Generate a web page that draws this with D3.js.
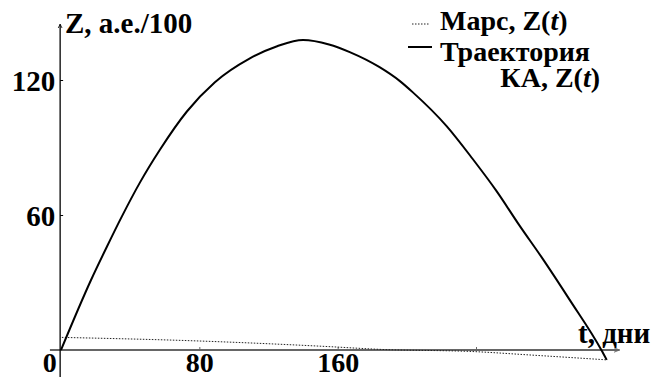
<!DOCTYPE html>
<html>
<head>
<meta charset="utf-8">
<script src="https://cdn.jsdelivr.net/npm/d3@7"></script>
<style>
  html, body { margin: 0; padding: 0; background: #fff; }
  svg { display: block; }
  svg text { font-family: "Liberation Serif", "Times New Roman", Times, "DejaVu Serif", serif !important; font-weight: bold; fill: #000; }
</style>
</head>
<body>
<svg id="chart" width="667" height="377"></svg>
<script>
// Spacecraft trajectory Z(t) versus time, in days
const kaDays = [0, 17.3, 26.6, 35.3, 45.7, 57.2, 72.8, 89, 109, 125, 140, 155, 167, 184, 196, 203.5, 223, 238, 252, 265, 278.6, 294, 312.5, 315.6];
const kaZ    = [0, 31, 46, 59.5, 74.5, 89, 106, 119, 129.5, 135, 137.8, 135.8, 132.4, 125.8, 119.5, 114.5, 99.5, 85, 70.5, 55.5, 40.5, 22.5, 0, -4.4];

// Mars Z(t)
const marsDays = [0.5, 80, 155, 184, 240, 271, 316];
const marsZ    = [5.6, 4.0, 1.5, 0.3, -0.75, -2.2, -4.4];

// Axis ticks
const xTicks = [80, 160, 240];
const xTickLabels = ["80", "160", ""];
const yTicks = [60, 120];

const FONT = "Liberation Serif, Times New Roman, serif";
const svg = d3.select("#chart");

const x = d3.scaleLinear().domain([0, 240]).range([61, 476]);
const y = d3.scaleLinear().domain([0, 120]).range([350, 80]);

// arrowheads
const defs = svg.append("defs");
defs.append("marker").attr("id", "arrY")
  .attr("viewBox", "0 0 10 10").attr("refX", 10).attr("refY", 5)
  .attr("markerWidth", 4).attr("markerHeight", 6).attr("orient", "auto")
  .attr("markerUnits", "userSpaceOnUse")
  .append("path").attr("d", "M0,0 L10,5 L0,10").attr("fill", "none").attr("stroke", "#000").attr("stroke-width", 2);
defs.append("marker").attr("id", "arrX")
  .attr("viewBox", "0 0 10 10").attr("refX", 10).attr("refY", 5)
  .attr("markerWidth", 6).attr("markerHeight", 6).attr("orient", "auto")
  .attr("markerUnits", "userSpaceOnUse")
  .append("path").attr("d", "M0,1 L10,5 L0,9").attr("fill", "none").attr("stroke", "#666").attr("stroke-width", 1.5);

// x axis line
svg.append("line")
  .attr("x1", x(-6.4)).attr("x2", x(323))
  .attr("y1", y(0)).attr("y2", y(0))
  .attr("stroke", "#666").attr("stroke-width", 2)
  .attr("marker-end", "url(#arrX)");

// y axis line
svg.append("line")
  .attr("x1", x(-0.5)).attr("x2", x(-0.5))
  .attr("y1", y(-12)).attr("y2", y(144.8))
  .attr("stroke", "#000").attr("stroke-width", 1.3)
  .attr("marker-end", "url(#arrY)");

// x ticks and labels
const xAxis = d3.axisBottom(x).tickValues(xTicks).tickSize(-3)
  .tickFormat((d, i) => xTickLabels[i]);
const gx = svg.append("g").attr("transform", `translate(0,${y(0)})`).call(xAxis)
  .attr("font-family", FONT).attr("font-size", 28);
gx.select(".domain").remove();
gx.selectAll(".tick line").attr("stroke", "#666").attr("stroke-width", 1);
gx.selectAll(".tick text")
  .attr("y", 22).attr("dy", 0).attr("fill", "#000");

// y ticks and labels
const yAxis = d3.axisLeft(y).tickValues(yTicks).tickSize(-3);
const gy = svg.append("g").attr("transform", `translate(${x(-0.5)},0)`).call(yAxis)
  .attr("font-family", FONT).attr("font-size", 29);
gy.select(".domain").remove();
gy.selectAll(".tick line").attr("stroke", "#000").attr("stroke-width", 1);
gy.selectAll(".tick text")
  .attr("x", -5).attr("dy", "0.35em").attr("fill", "#000");

// origin label
svg.append("text").attr("x", x(-6.5)).attr("y", 372)
  .attr("font-family", FONT).attr("font-size", 28)
  .attr("text-anchor", "middle").text("0");

// Mars curve (dotted)
const marsLine = d3.line().x((d, i) => x(marsDays[i])).y(d => y(d)).curve(d3.curveMonotoneX);
svg.append("path").datum(marsZ)
  .attr("d", marsLine)
  .attr("fill", "none").attr("stroke", "#222").attr("stroke-width", 1)
  .attr("stroke-dasharray", "1.5,1.5");

// spacecraft curve
const kaLine = d3.line().x((d, i) => x(kaDays[i])).y(d => y(d)).curve(d3.curveMonotoneX);
svg.append("path").datum(kaZ)
  .attr("d", kaLine)
  .attr("fill", "none").attr("stroke", "#000").attr("stroke-width", 2);

// axis titles
svg.append("text").attr("x", 65).attr("y", 33).attr("font-family", FONT).attr("font-size", 29).text("Z, a.e./100");
svg.append("text").attr("x", 578).attr("y", 343).attr("font-family", FONT).attr("font-size", 29).text("t, дни");

// legend
const lg = svg.append("g").attr("font-family", FONT).attr("font-size", 28);
lg.append("line").attr("x1", 412).attr("x2", 430).attr("y1", 24).attr("y2", 24)
  .attr("stroke", "#222").attr("stroke-width", 1).attr("stroke-dasharray", "1.5,1.5");
const t1 = lg.append("text").attr("x", 440).attr("y", 30);
t1.append("tspan").text("Марс, Z(");
t1.append("tspan").attr("font-style", "italic").text("t");
t1.append("tspan").text(")");

lg.append("line").attr("x1", 408).attr("x2", 432).attr("y1", 47).attr("y2", 47)
  .attr("stroke", "#000").attr("stroke-width", 2);
lg.append("text").attr("x", 440).attr("y", 61).text("Траектория");
const t2 = lg.append("text").attr("x", 600).attr("y", 87).attr("text-anchor", "end");
t2.append("tspan").text("КА, Z(");
t2.append("tspan").attr("font-style", "italic").text("t");
t2.append("tspan").text(")");
</script>
</body>
</html>
